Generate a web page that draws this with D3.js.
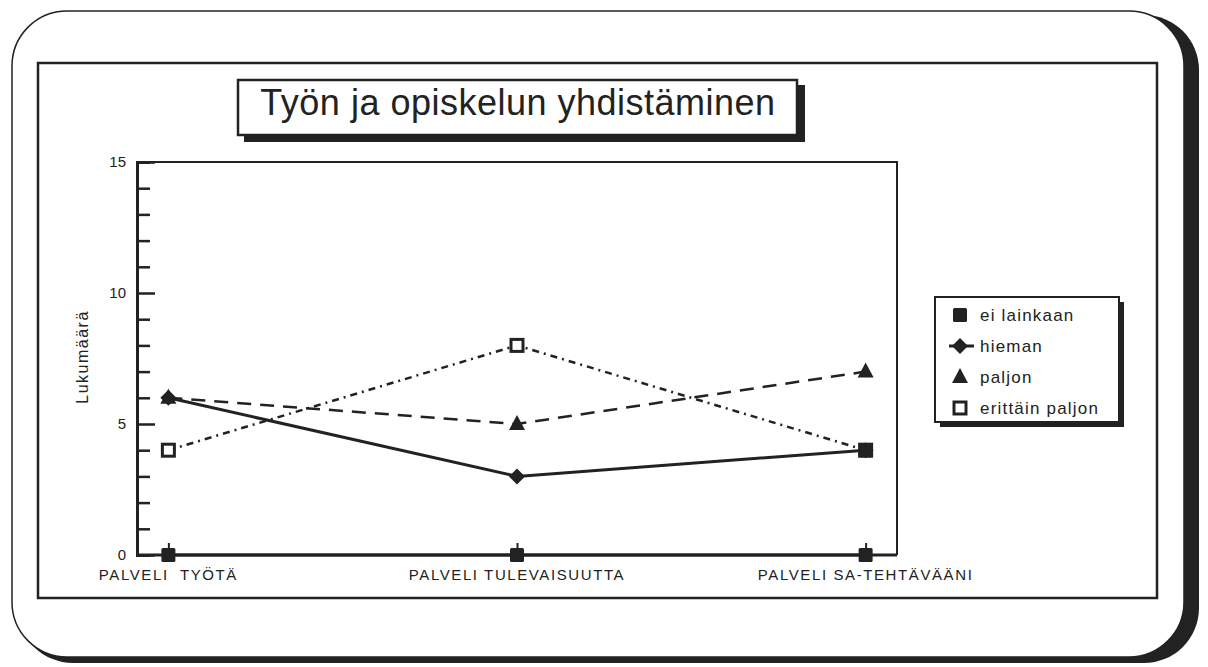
<!DOCTYPE html>
<html>
<head>
<meta charset="utf-8">
<script src="https://cdn.jsdelivr.net/npm/d3@7"></script>
<style>
  body { margin: 0; background: #fff; }
  svg { display: block; font-family: "Liberation Sans", Arial, sans-serif; }
</style>
</head>
<body>
<div id="chart"></div>
<script>
// data
const categories = ["PALVELI  TYÖTÄ", "PALVELI TULEVAISUUTTA", "PALVELI SA-TEHTÄVÄÄNI"];
const seriesNames = ["ei lainkaan", "hieman", "paljon", "erittäin paljon"];
const eiLainkaan = [0, 0, 0];
const hieman = [6, 3, 4];
const paljon = [6, 5, 7];
const erittainPaljon = [4, 8, 4];
const yTicks = [0, 5, 10, 15];
const chartTitle = "Työn ja opiskelun yhdistäminen";
const yLabel = "Lukumäärä";

const W = 1208, H = 667;
const ink = "#222";

const svg = d3.select("#chart").append("svg")
  .attr("width", W).attr("height", H);

// outer rounded frame with shadow
svg.append("rect").attr("x", 18).attr("y", 15).attr("width", 1181).attr("height", 648)
  .attr("rx", 55).attr("fill", ink);
svg.append("rect").attr("x", 12).attr("y", 11).attr("width", 1172).attr("height", 646)
  .attr("rx", 55).attr("fill", "#fff").attr("stroke", ink).attr("stroke-width", 1.5);

// inner frame
svg.append("rect").attr("x", 38).attr("y", 63).attr("width", 1119).attr("height", 535)
  .attr("fill", "none").attr("stroke", ink).attr("stroke-width", 2.5);

// title box
svg.append("rect").attr("x", 244).attr("y", 85).attr("width", 561).attr("height", 57).attr("fill", ink);
svg.append("rect").attr("x", 238).attr("y", 80).attr("width", 559).attr("height", 55)
  .attr("fill", "#fff").attr("stroke", ink).attr("stroke-width", 2.5);
svg.append("text").attr("x", 518).attr("y", 115).attr("text-anchor", "middle")
  .attr("font-size", 36).attr("letter-spacing", 0.5).attr("fill", ink).text(chartTitle);

// scales
const plot = { left: 137, right: 897, top: 162, bottom: 555 };
const x = d3.scalePoint().domain(categories).range([plot.left, plot.right]).padding(0.09);
const y = d3.scaleLinear().domain([0, 15]).range([plot.bottom, plot.top]);

// plot frame (top and right thin)
svg.append("path")
  .attr("d", `M${plot.left},${plot.top}H${plot.right}V${plot.bottom}`)
  .attr("fill", "none").attr("stroke", ink).attr("stroke-width", 2);

// y axis, ticks point inward, longer at the labelled values
const yAxis = svg.append("g").attr("transform", `translate(${plot.left},0)`)
  .call(d3.axisRight(y).tickValues(d3.range(0, 16)).tickSize(13).tickFormat(""));
yAxis.select(".domain").attr("stroke", ink).attr("stroke-width", 3);
yAxis.selectAll(".tick line").attr("stroke", ink).attr("stroke-width", 2.5)
  .attr("x2", d => yTicks.includes(d) ? 18 : 13);
svg.append("g").selectAll("text").data(yTicks).join("text")
  .attr("x", plot.left - 11).attr("y", d => y(d) + 5)
  .attr("text-anchor", "end").attr("font-size", 15).attr("fill", ink)
  .text(d => d);

// x axis, ticks point up
const xAxis = svg.append("g").attr("transform", `translate(0,${plot.bottom})`)
  .call(d3.axisTop(x).tickSize(12).tickFormat("").tickSizeOuter(0));
xAxis.select(".domain").attr("stroke", ink).attr("stroke-width", 3)
  .attr("d", `M${plot.left},0H${plot.right}`);
xAxis.selectAll(".tick line").attr("stroke", ink).attr("stroke-width", 2);
svg.append("g").selectAll("text").data(categories).join("text")
  .attr("x", d => x(d)).attr("y", plot.bottom + 25)
  .attr("text-anchor", "middle").attr("font-size", 15).attr("letter-spacing", 1.6)
  .attr("fill", ink)
  .attr("xml:space", "preserve")
  .text(d => d);

// y label
svg.append("text")
  .attr("transform", `translate(88,357) rotate(-90)`)
  .attr("text-anchor", "middle").attr("font-size", 16).attr("letter-spacing", 1.5)
  .attr("fill", ink)
  .text(yLabel);

// series
const series = [
  { name: seriesNames[0], values: eiLainkaan, dash: null, width: 3, marker: "fsquare" },
  { name: seriesNames[1], values: hieman, dash: null, width: 3, marker: "diamond" },
  { name: seriesNames[2], values: paljon, dash: "14,9", width: 2.5, marker: "triangle" },
  { name: seriesNames[3], values: erittainPaljon, dash: "7,5,2,5", width: 2.5, marker: "osquare" }
];

const line = d3.line().x((d, i) => x(categories[i])).y(d => y(d));

svg.append("g").selectAll("path").data(series).join("path")
  .attr("d", d => line(d.values))
  .attr("fill", "none").attr("stroke", ink)
  .attr("stroke-width", d => d.width)
  .attr("stroke-dasharray", d => d.dash);

function drawMarker(g, type, cx, cy) {
  if (type === "fsquare") {
    g.append("rect").attr("x", cx - 7).attr("y", cy - 7).attr("width", 14).attr("height", 14)
      .attr("rx", 1.5).attr("fill", ink);
  } else if (type === "osquare") {
    g.append("rect").attr("x", cx - 6).attr("y", cy - 6).attr("width", 12).attr("height", 12)
      .attr("fill", "#fff").attr("stroke", ink).attr("stroke-width", 3);
  } else if (type === "diamond") {
    g.append("path").attr("d", `M${cx},${cy - 8}L${cx + 8},${cy}L${cx},${cy + 8}L${cx - 8},${cy}Z`)
      .attr("fill", ink);
  } else if (type === "triangle") {
    g.append("path").attr("d", `M${cx},${cy - 9}L${cx + 8},${cy + 6}L${cx - 8},${cy + 6}Z`)
      .attr("fill", ink);
  }
}

const markers = svg.append("g");
series.forEach(s => {
  s.values.forEach((v, i) => {
    drawMarker(markers, s.marker, x(categories[i]), y(v));
  });
});
// where the open square coincides with the solid line end it prints as a filled block
categories.forEach((c, i) => {
  if (erittainPaljon[i] === hieman[i]) drawMarker(markers, "fsquare", x(c), y(hieman[i]));
});

// legend
const lg = { x: 935, y: 297, w: 184, h: 125 };
svg.append("rect").attr("x", lg.x + 5).attr("y", lg.y + 5).attr("width", lg.w).attr("height", lg.h).attr("fill", ink);
svg.append("rect").attr("x", lg.x).attr("y", lg.y).attr("width", lg.w).attr("height", lg.h)
  .attr("fill", "#fff").attr("stroke", ink).attr("stroke-width", 2);
const rowY = d3.scalePoint().domain(seriesNames).range([315, 408]);
series.forEach(s => {
  const cy = rowY(s.name);
  if (s.marker === "diamond") {
    svg.append("line").attr("x1", 949).attr("x2", 974).attr("y1", cy).attr("y2", cy)
      .attr("stroke", ink).attr("stroke-width", 3);
  }
  drawMarker(svg, s.marker, 960, cy);
  svg.append("text").attr("x", 980).attr("y", cy + 6)
    .attr("font-size", 17).attr("letter-spacing", 1.2).attr("fill", ink).text(s.name);
});
</script>
</body>
</html>
